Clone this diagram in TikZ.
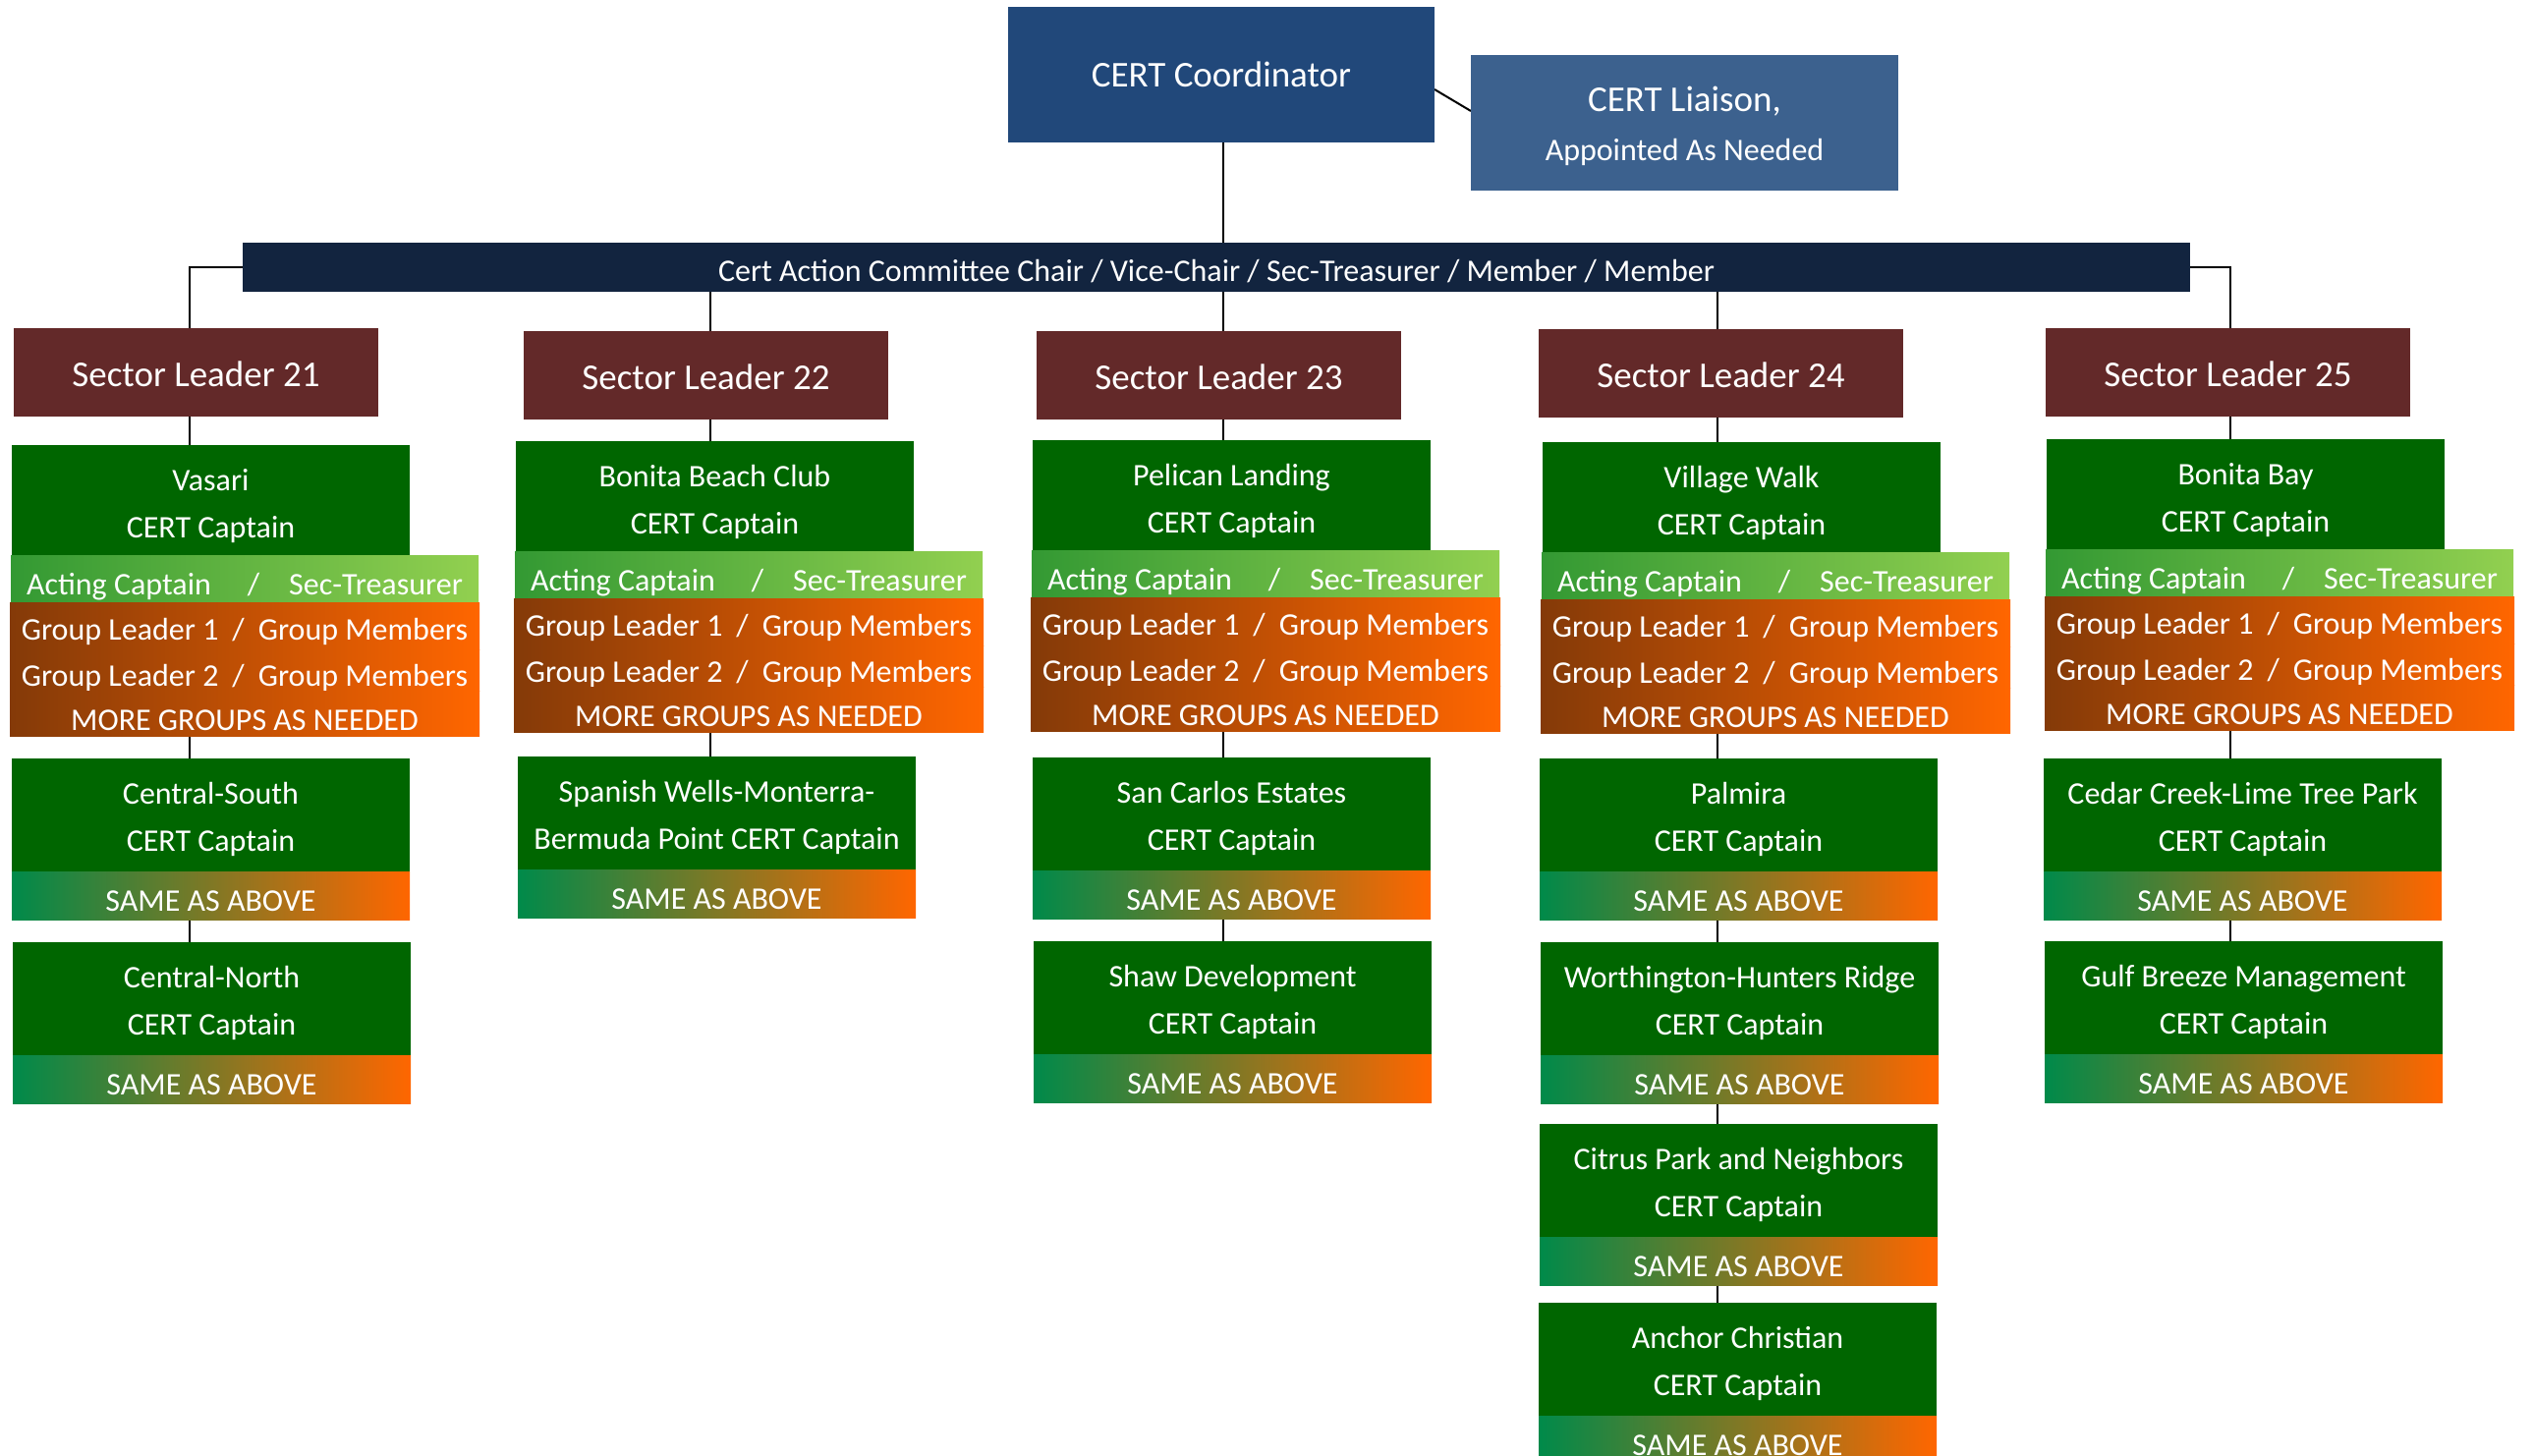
\documentclass[tikz,border=0pt]{standalone}
\usepackage{fontspec}
\setmainfont{Carlito}
\usetikzlibrary{backgrounds,calc}
\definecolor{coordc}{HTML}{21487A}
\definecolor{liaic}{HTML}{3C618E}
\definecolor{barc}{HTML}{12243F}
\definecolor{sectc}{HTML}{632929}
\definecolor{capgreen}{HTML}{006600}
\definecolor{actL}{HTML}{339933}
\definecolor{actR}{HTML}{92D050}
\definecolor{glL}{HTML}{843A08}
\definecolor{glR}{HTML}{FF6600}
\definecolor{samL}{HTML}{008A4A}
\definecolor{samM}{HTML}{B87F34}
\definecolor{samR}{HTML}{FF6600}
\tikzset{
  box/.style={inner sep=0pt, outer sep=0pt, anchor=north west},
  wt/.style={text=white, inner sep=0pt, outer sep=0pt, anchor=base},
  f37/.style={font=\fontsize{37}{44}\selectfont},
  f32/.style={font=\fontsize{32}{38}\selectfont},
  fbar/.style={font=\fontsize{32}{38}\selectfont},
  gbox/.style={box, fill=capgreen, minimum width=405pt, minimum height=115pt},
  sbox/.style={box, fill=sectc, minimum width=371pt, minimum height=90pt},
  actbar/.style={box, left color=actL, right color=actR, minimum width=476pt, minimum height=48pt},
  glbar/.style={box, left color=glL, right color=glR, minimum width=478pt},
  samebar/.style={box, left color=samL, middle color=samM, right color=samR, minimum width=405pt, minimum height=49pt},
  conn/.style={draw=black, line width=2pt},
}
\newcommand\sectorbox[4]{% id, x, y, text
  \node[sbox] (#1) at (#2,#3) {};
  \node[wt,f37] (#1t) at ($(#1.north)+(0,59)$) {#4};
}
\newcommand\capgroup[5]{% id, L, T, line1, line2
  \node[gbox] (#1) at (#2,#3) {};
  \node[wt,f32] (#1ta) at ($(#1.north)+(0,46)$) {#4};
  \node[wt,f32] (#1tb) at ($(#1.north)+(0,94)$) {#5};
  \node[actbar] (#1act) at ({#2-1},{#3+112}) {};
  \node[wt,f32] (#1actt) at ($(#1act.north)+(0,40)$) {Acting Captain\hspace{37pt}/\hspace{30pt}Sec-Treasurer};
  \node[glbar, minimum height=48pt] (#1ga) at ({#2-2},{#3+160}) {};
  \node[wt,f32] (#1gat) at ($(#1ga.north)+(0,38)$) {Group Leader 1\hspace{14pt}/\hspace{14pt}Group Members};
  \node[glbar, minimum height=42pt] (#1gb) at ({#2-2},{#3+208}) {};
  \node[wt,f32] (#1gbt) at ($(#1gb.north)+(0,37)$) {Group Leader 2\hspace{14pt}/\hspace{14pt}Group Members};
  \node[glbar, minimum height=46pt] (#1gc) at ({#2-2},{#3+250}) {};
  \node[wt,f32] (#1gct) at ($(#1gc.north)+(0,40)$) {MORE GROUPS AS NEEDED};
}
\newcommand\subgroup[5]{% id, L, T, line1, line2
  \node[gbox] (#1) at (#2,#3) {};
  \node[wt,f32] (#1ta) at ($(#1.north)+(0,46)$) {#4};
  \node[wt,f32] (#1tb) at ($(#1.north)+(0,94)$) {#5};
  \node[samebar] (#1s) at (#2,{#3+115}) {};
  \node[wt,f32] (#1st) at ($(#1s.north)+(0,40)$) {SAME AS ABOVE};
}
\begin{document}
\begin{tikzpicture}[x=1pt,y=-1pt]
\useasboundingbox (0,0) rectangle (2578,1482);
% column axes
\coordinate (ax21) at (193,0);
\coordinate (ax22) at (723,0);
\coordinate (ax23) at (1245,0);
\coordinate (ax24) at (1748,0);
\coordinate (ax25) at (2270,0);
% top
\node[box, fill=coordc, minimum width=434pt, minimum height=138pt] (coord) at (1026,7) {};
\node[wt,f37] (coordt) at ($(coord.north)+(0,82)$) {CERT Coordinator};
\node[box, fill=liaic, minimum width=435pt, minimum height=138pt] (liai) at (1497,56) {};
\node[wt,f37] (liaita) at ($(liai.north)+(0,58)$) {CERT Liaison,};
\node[wt,f32] (liaitb) at ($(liai.north)+(0,108)$) {Appointed As Needed};
\node[box, fill=barc, minimum width=1982pt, minimum height=50pt] (bar) at (247,247) {};
\node[wt,fbar] (bart) at ($(bar.north)+(0,39)$) {Cert Action Committee Chair / Vice-Chair / Sec-Treasurer / Member / Member};
% sectors
\sectorbox{s21}{14}{334}{Sector Leader 21}
\sectorbox{s22}{533}{337}{Sector Leader 22}
\sectorbox{s23}{1055}{337}{Sector Leader 23}
\sectorbox{s24}{1566}{335}{Sector Leader 24}
\sectorbox{s25}{2082}{334}{Sector Leader 25}
% captain groups
\capgroup{c21}{12}{453}{Vasari}{CERT Captain}
\capgroup{c22}{525}{449}{Bonita Beach Club}{CERT Captain}
\capgroup{c23}{1051}{448}{Pelican Landing}{CERT Captain}
\capgroup{c24}{1570}{450}{Village Walk}{CERT Captain}
\capgroup{c25}{2083}{447}{Bonita Bay}{CERT Captain}
% sub groups
\subgroup{cs}{12}{772}{Central-South}{CERT Captain}
\subgroup{cn}{13}{959}{Central-North}{CERT Captain}
\subgroup{sw}{527}{770}{Spanish Wells-Monterra-}{Bermuda Point CERT Captain}
\subgroup{sc}{1051}{771}{San Carlos Estates}{CERT Captain}
\subgroup{sd}{1052}{958}{Shaw Development}{CERT Captain}
\subgroup{pa}{1567}{772}{Palmira}{CERT Captain}
\subgroup{wh}{1568}{959}{Worthington-Hunters Ridge}{CERT Captain}
\subgroup{cp}{1567}{1144}{Citrus Park and Neighbors}{CERT Captain}
\subgroup{ac}{1566}{1326}{Anchor Christian}{CERT Captain}
\subgroup{cc}{2080}{772}{Cedar Creek-Lime Tree Park}{CERT Captain}
\subgroup{gb}{2081}{958}{Gulf Breeze Management}{CERT Captain}
% connectors
\begin{scope}[on background layer]
  \draw[conn] (coord.south -| ax23) -- (bar.north -| ax23);
  \draw[conn] ([yshift=-15pt]coord.east) -- ([yshift=12pt]liai.west);
  \draw[conn] (bar.west) -| (s21.north -| ax21);
  \draw[conn] (bar.east) -| (s25.north -| ax25);
  \draw[conn] (bar.south -| ax22) -- (s22.north -| ax22);
  \draw[conn] (bar.south -| ax23) -- (s23.north -| ax23);
  \draw[conn] (bar.south -| ax24) -- (s24.north -| ax24);
  % column 21
  \draw[conn] (s21.south -| ax21) -- (c21.north -| ax21);
  \draw[conn] (c21gc.south -| ax21) -- (cs.north -| ax21);
  \draw[conn] (css.south -| ax21) -- (cn.north -| ax21);
  % column 22
  \draw[conn] (s22.south -| ax22) -- (c22.north -| ax22);
  \draw[conn] (c22gc.south -| ax22) -- (sw.north -| ax22);
  % column 23
  \draw[conn] (s23.south -| ax23) -- (c23.north -| ax23);
  \draw[conn] (c23gc.south -| ax23) -- (sc.north -| ax23);
  \draw[conn] (scs.south -| ax23) -- (sd.north -| ax23);
  % column 24
  \draw[conn] (s24.south -| ax24) -- (c24.north -| ax24);
  \draw[conn] (c24gc.south -| ax24) -- (pa.north -| ax24);
  \draw[conn] (pas.south -| ax24) -- (wh.north -| ax24);
  \draw[conn] (whs.south -| ax24) -- (cp.north -| ax24);
  \draw[conn] (cps.south -| ax24) -- (ac.north -| ax24);
  % column 25
  \draw[conn] (s25.south -| ax25) -- (c25.north -| ax25);
  \draw[conn] (c25gc.south -| ax25) -- (cc.north -| ax25);
  \draw[conn] (ccs.south -| ax25) -- (gb.north -| ax25);
\end{scope}
\end{tikzpicture}
\end{document}
